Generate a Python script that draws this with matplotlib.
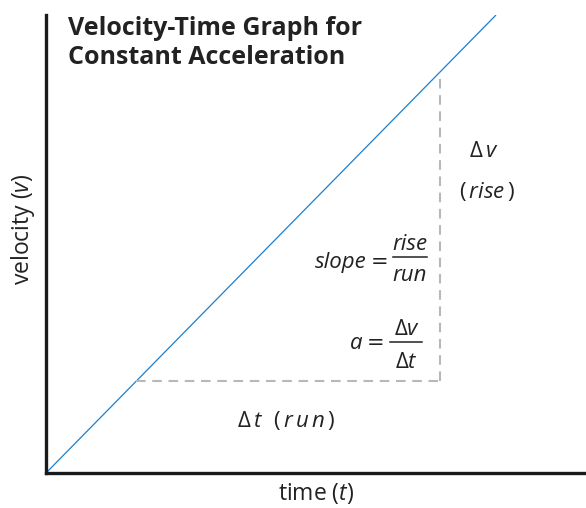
import matplotlib
matplotlib.use("Agg")
import matplotlib.pyplot as plt

plt.rcParams['font.family'] = ['Open Sans', 'DejaVu Sans']
plt.rcParams['mathtext.fontset'] = 'custom'
plt.rcParams['mathtext.rm'] = 'Open Sans'
plt.rcParams['mathtext.it'] = 'Open Sans:italic'
plt.rcParams['mathtext.bf'] = 'Open Sans:bold'

# Data
time = [0, 10]
velocity = [0, 10]
t_run = [2, 8.75]      # start/end of the run (dashed horizontal)
v_rise = [2, 8.75]     # start/end of the rise (dashed vertical)

title = "Velocity-Time Graph for\nConstant Acceleration"
xlabel = r"time $\mathit{(t)}$"
ylabel = r"velocity $\mathit{(v)}$"

INK = '#222222'
fig = plt.figure(figsize=(5.86, 5.08), dpi=100)
ax = fig.add_axes([46/586, 35/508, 540/586, 458/508])
ax.set_xlim(0, 12)
ax.set_ylim(0, 10)

ax.plot(time, velocity, color='#1a7fd0', lw=0.9, solid_capstyle='butt')
ax.plot(t_run, [v_rise[0], v_rise[0]], color='#b8b8b8', lw=1.5, dashes=(4.6, 3.2))
ax.plot([t_run[1], t_run[1]], v_rise, color='#b8b8b8', lw=1.5, dashes=(4.6, 3.2))

for s in ['top', 'right']:
    ax.spines[s].set_visible(False)
for s in ['left', 'bottom']:
    ax.spines[s].set_linewidth(2.4)
    ax.spines[s].set_color('#1a1a1a')
ax.set_xticks([])
ax.set_yticks([])

ax.set_xlabel(xlabel, fontsize=16.5, color=INK, labelpad=6)
ax.set_ylabel(ylabel, fontsize=16.5, color=INK)
ax.yaxis.set_label_coords(-0.016, 0.532)

ax.text(0.49, 9.98, title, fontsize=18, fontweight='bold', color=INK,
        va='top', ha='left', linespacing=1.22)

FS = 16
EQ = dict(fontsize=15, ha='center', va='baseline', color=INK, family='DejaVu Sans')
# slope = rise / run
ax.text(7.12, 4.476, "slope", style='italic', fontsize=FS, ha='right', va='baseline', color=INK)
ax.text(7.42, 4.476, "=", **EQ)
ax.text(8.09, 4.869, "rise", style='italic', fontsize=FS, ha='center', va='baseline', color=INK)
ax.plot([7.71, 8.47], [4.716, 4.716], color=INK, lw=1.1)
ax.text(8.09, 4.192, "run", style='italic', fontsize=FS, ha='center', va='baseline', color=INK)

# a = Δv / Δt
ax.text(7.03, 2.707, "a", style='italic', fontsize=FS, ha='right', va='baseline', color=INK)
ax.text(7.33, 2.707, "=", **EQ)
ax.text(8.02, 3.013, r"$\Delta\mathit{v}$", fontsize=FS, ha='center', va='baseline', color=INK)
ax.plot([7.64, 8.36], [2.86, 2.86], color=INK, lw=1.1)
ax.text(8.02, 2.293, r"$\Delta\mathit{t}$", fontsize=FS, ha='center', va='baseline', color=INK)

# rise / run labels
ax.text(9.73, 6.90, r"$\Delta\,\mathit{v}$", fontsize=FS, ha='center', va='baseline', color=INK)
ax.text(9.80, 6.00, r"$(\,\mathit{rise}\,)$", fontsize=FS, ha='center', va='baseline', color=INK)
ax.text(5.33, 1.004, r"$\Delta\,\mathit{t}\ \ (\,\mathit{r\,u\,n}\,)$", fontsize=FS, ha='center', va='baseline', color=INK)

fig.savefig("out.png", dpi=100)
